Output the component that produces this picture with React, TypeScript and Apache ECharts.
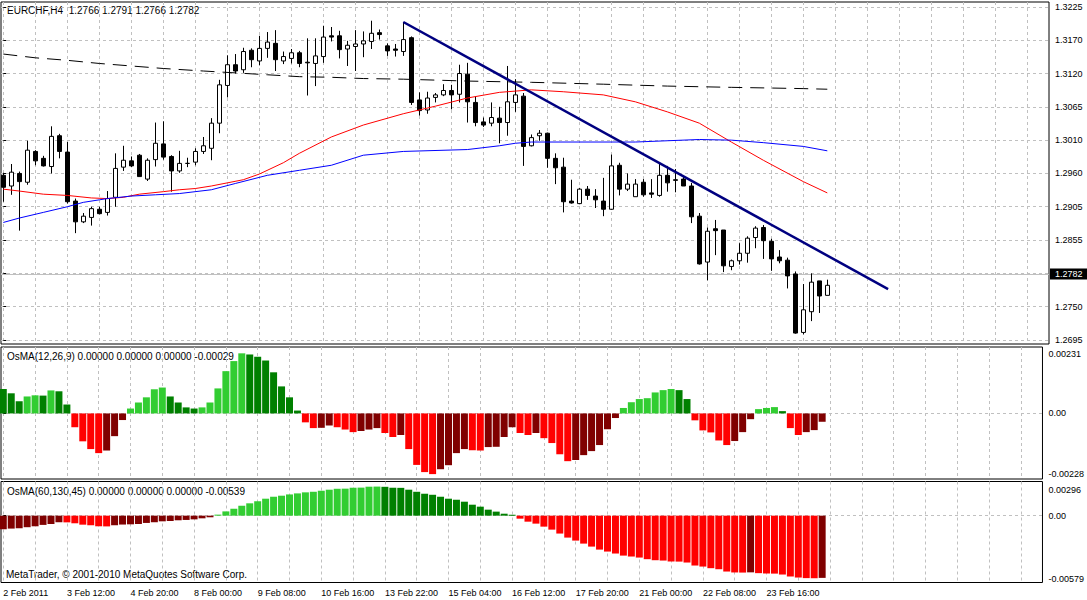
import React, { useEffect, useRef } from "react";
import * as echarts from "echarts";

// ---- Price data (EURCHF, H4) ----
const OPEN = [
  1.2957, 1.2940, 1.2960, 1.2946, 1.2995, 1.2984, 1.2971, 1.3020, 1.2994, 1.2916,
  1.2883, 1.2890, 1.2903, 1.2898, 1.2922, 1.2970, 1.2980, 1.2989, 1.2951, 1.2982,
  1.3007, 1.2987, 1.2964, 1.2976, 1.2978, 1.2995, 1.3000, 1.3040, 1.3100, 1.3133,
  1.3125, 1.3156, 1.3139, 1.3159, 1.3167, 1.3139, 1.3143, 1.3152, 1.3137, 1.3135,
  1.3146, 1.3179, 1.3179, 1.3158, 1.3162, 1.3166, 1.3170, 1.3184, 1.3163, 1.3158,
  1.3154, 1.3176, 1.3077, 1.3061, 1.3081, 1.3085, 1.3092, 1.3086, 1.3118, 1.3073,
  1.3042, 1.3040, 1.3048, 1.3041, 1.3073, 1.3083, 1.3004, 1.3020, 1.3024, 1.2984,
  1.2970, 1.2916, 1.2912, 1.2935, 1.2924, 1.2916, 1.2903, 1.2973, 1.2935, 1.2923,
  1.2946, 1.2929, 1.2925, 1.2957, 1.2950, 1.2951, 1.2940, 1.2892, 1.2819, 1.2872,
  1.2870, 1.2812, 1.2821, 1.2833, 1.2858, 1.2874, 1.2852, 1.2827, 1.2822, 1.2800,
  1.2707, 1.2740, 1.2789, 1.2766,
];
const HIGH = [
  1.2961, 1.2975, 1.2963, 1.3012, 1.2997, 1.2988, 1.3035, 1.3023, 1.3010, 1.2920,
  1.2897, 1.2907, 1.2907, 1.2932, 1.2992, 1.3004, 1.2987, 1.2991, 1.2984, 1.3041,
  1.3043, 1.2989, 1.2996, 1.2985, 1.3000, 1.3018, 1.3048, 1.3109, 1.3148, 1.3150,
  1.3160, 1.3159, 1.3179, 1.3185, 1.3188, 1.3154, 1.3158, 1.3155, 1.3175, 1.3175,
  1.3195, 1.3193, 1.3187, 1.3171, 1.3188, 1.3186, 1.3203, 1.3189, 1.3167, 1.3166,
  1.3201, 1.3178, 1.3089, 1.3090, 1.3088, 1.3102, 1.3101, 1.3133, 1.3136, 1.3083,
  1.3049, 1.3073, 1.3066, 1.3131, 1.3110, 1.3088, 1.3022, 1.3029, 1.3025, 1.2992,
  1.2985, 1.2950, 1.2937, 1.2940, 1.2935, 1.2953, 1.2990, 1.2977, 1.2960, 1.2951,
  1.2951, 1.2951, 1.2976, 1.2972, 1.2967, 1.2955, 1.2945, 1.2897, 1.2874, 1.2886,
  1.2870, 1.2823, 1.2849, 1.2860, 1.2876, 1.2878, 1.2856, 1.2838, 1.2826, 1.2804,
  1.2784, 1.2801, 1.2789, 1.2791,
];
const LOW = [
  1.2915, 1.2926, 1.2869, 1.2942, 1.2973, 1.2971, 1.2960, 1.2984, 1.2912, 1.2865,
  1.2881, 1.2877, 1.2895, 1.2893, 1.2907, 1.2964, 1.2970, 1.2955, 1.2948, 1.2971,
  1.2982, 1.2931, 1.2961, 1.2970, 1.2973, 1.2991, 1.2981, 1.3024, 1.3081, 1.3119,
  1.3120, 1.3129, 1.3132, 1.3144, 1.3123, 1.3134, 1.3135, 1.3129, 1.3084, 1.3099,
  1.3136, 1.3170, 1.3143, 1.3131, 1.3123, 1.3145, 1.3158, 1.3173, 1.3147, 1.3146,
  1.3147, 1.3069, 1.3052, 1.3055, 1.3073, 1.3083, 1.3062, 1.3073, 1.3041, 1.3035,
  1.3034, 1.3035, 1.3008, 1.3020, 1.3058, 1.2972, 1.3003, 1.3012, 1.2969, 1.2943,
  1.2898, 1.2912, 1.2911, 1.2918, 1.2905, 1.2892, 1.2902, 1.2925, 1.2932, 1.2923,
  1.2923, 1.2921, 1.2923, 1.2931, 1.2930, 1.2940, 1.2881, 1.2815, 1.2790, 1.2830,
  1.2803, 1.2806, 1.2815, 1.2818, 1.2841, 1.2824, 1.2805, 1.2817, 1.2777, 1.2705,
  1.2704, 1.2725, 1.2738, 1.2766,
];
const CLOSE = [
  1.2938, 1.2962, 1.2947, 1.2997, 1.2980, 1.2972, 1.3019, 1.2995, 1.2915, 1.2883,
  1.2892, 1.2904, 1.2896, 1.2920, 1.2968, 1.2981, 1.2972, 1.2955, 1.2981, 1.3008,
  1.2986, 1.2964, 1.2976, 1.2976, 1.2995, 1.3004, 1.3040, 1.3101, 1.3133, 1.3123,
  1.3154, 1.3141, 1.3159, 1.3169, 1.3141, 1.3146, 1.3152, 1.3135, 1.3136, 1.3147,
  1.3177, 1.3177, 1.3157, 1.3164, 1.3166, 1.3171, 1.3183, 1.3181, 1.3155, 1.3156,
  1.3173, 1.3073, 1.3060, 1.3080, 1.3085, 1.3092, 1.3085, 1.3119, 1.3074, 1.3041,
  1.3037, 1.3049, 1.3041, 1.3074, 1.3085, 1.3003, 1.3017, 1.3024, 1.2984, 1.2969,
  1.2915, 1.2913, 1.2935, 1.2925, 1.2918, 1.2903, 1.2972, 1.2935, 1.2943, 1.2943,
  1.2926, 1.2927, 1.2957, 1.2945, 1.2949, 1.2940, 1.2891, 1.2816, 1.2868, 1.2869,
  1.2813, 1.2821, 1.2833, 1.2857, 1.2873, 1.2853, 1.2824, 1.2821, 1.2797, 1.2706,
  1.2743, 1.2787, 1.2765, 1.2782,
];

// Moving averages: [bar index, value]
const MA_RED = [
  [0, 1.2935], [2, 1.2932], [5, 1.2927], [8, 1.2925], [11, 1.2921], [13, 1.2920],
  [15, 1.2922], [17, 1.2927], [20, 1.2931], [22, 1.2934], [24, 1.2936], [26, 1.2940],
  [28, 1.2945], [30, 1.2950], [32, 1.2959], [35, 1.2977], [37, 1.2992], [41, 1.3018],
  [45, 1.3037], [50, 1.3055], [54, 1.3067], [58, 1.3080], [62, 1.3089], [66, 1.3093],
  [70, 1.3090], [75, 1.3085], [79, 1.3074], [83, 1.3058], [87, 1.3040], [91, 1.3010],
  [95, 1.2981], [100, 1.2947], [103, 1.2929],
];
const MA_BLUE = [
  [0, 1.2882], [2, 1.2889], [5, 1.2898], [8, 1.2907], [10, 1.2914], [12, 1.2918],
  [13, 1.2920], [16, 1.2924], [19, 1.2926], [22, 1.2928], [26, 1.2934], [29, 1.2944],
  [33, 1.2957], [37, 1.2965], [41, 1.2973], [45, 1.2989], [50, 1.2995], [58, 1.2998],
  [62, 1.3004], [64, 1.3008], [66, 1.3010], [79, 1.3010], [83, 1.3012], [87, 1.3014],
  [91, 1.3013], [95, 1.3009], [100, 1.3003], [103, 1.2996],
];
const MA_DASHED = [
  [0, 1.3150], [4, 1.3144], [8, 1.3140], [12, 1.3135], [16, 1.3131], [20, 1.3127],
  [25, 1.3123], [29, 1.3120], [33, 1.3117], [37, 1.3114], [41, 1.3113], [45, 1.3111],
  [50, 1.3110], [58, 1.3107], [66, 1.3105], [75, 1.3102], [83, 1.3099], [91, 1.3097],
  [100, 1.3095], [103, 1.3094],
];
const TRENDLINE = [[50, 1.3201], [110.6, 1.2776]];
const LAST_PRICE = 1.2782;

// OsMA(12,26,9)
const OSMA_FAST = [
  0.00085, 0.00070, 0.00042, 0.00059, 0.00063, 0.00062, 0.00080, 0.00077, 0.00031, -0.00048,
  -0.00097, -0.00124, -0.00138, -0.00129, -0.00079, -0.00023, 0.00017, 0.00038, 0.00056, 0.00084,
  0.00090, 0.00059, 0.00038, 0.00021, 0.00017, 0.00021, 0.00038, 0.00087, 0.00147, 0.00182,
  0.00209, 0.00205, 0.00197, 0.00184, 0.00143, 0.00094, 0.00056, 0.00010, -0.00031, -0.00051,
  -0.00050, -0.00042, -0.00048, -0.00056, -0.00065, -0.00061, -0.00056, -0.00051, -0.00068, -0.00082,
  -0.00075, -0.00124, -0.00179, -0.00204, -0.00211, -0.00194, -0.00180, -0.00138, -0.00124, -0.00128,
  -0.00129, -0.00117, -0.00116, -0.00082, -0.00048, -0.00068, -0.00075, -0.00068, -0.00086, -0.00103,
  -0.00142, -0.00166, -0.00162, -0.00145, -0.00131, -0.00110, -0.00055, -0.00016, 0.00019, 0.00039,
  0.00050, 0.00053, 0.00073, 0.00081, 0.00085, 0.00081, 0.00050, -0.00024, -0.00059, -0.00066,
  -0.00094, -0.00110, -0.00096, -0.00065, -0.00020, 0.00015, 0.00019, 0.00022, 0.00008, -0.00051,
  -0.00075, -0.00065, -0.00058, -0.00029,
];
// OsMA(60,130,45)
const OSMA_SLOW = [
  -0.00118, -0.00112, -0.00109, -0.00100, -0.00092, -0.00080, -0.00072, -0.00057, -0.00058, -0.00066,
  -0.00078, -0.00083, -0.00092, -0.00093, -0.00083, -0.00077, -0.00075, -0.00072, -0.00063, -0.00057,
  -0.00049, -0.00046, -0.00040, -0.00037, -0.00032, -0.00023, -0.00014, 0.00009, 0.00037, 0.00060,
  0.00086, 0.00107, 0.00124, 0.00147, 0.00164, 0.00173, 0.00184, 0.00193, 0.00202, 0.00207,
  0.00216, 0.00225, 0.00233, 0.00234, 0.00242, 0.00243, 0.00251, 0.00252, 0.00250, 0.00242,
  0.00241, 0.00225, 0.00207, 0.00190, 0.00181, 0.00164, 0.00147, 0.00138, 0.00121, 0.00095,
  0.00078, 0.00052, 0.00035, 0.00017, 0.00007, -0.00026, -0.00052, -0.00069, -0.00095, -0.00121,
  -0.00155, -0.00190, -0.00216, -0.00242, -0.00268, -0.00294, -0.00311, -0.00328, -0.00346, -0.00354,
  -0.00363, -0.00377, -0.00386, -0.00389, -0.00397, -0.00398, -0.00406, -0.00432, -0.00441, -0.00455,
  -0.00464, -0.00484, -0.00492, -0.00493, -0.00491, -0.00498, -0.00501, -0.00502, -0.00510, -0.00527,
  -0.00536, -0.00541, -0.00542, -0.00539,
];

const X_LABELS = [
  "2 Feb 2011", "3 Feb 12:00", "4 Feb 20:00", "8 Feb 00:00", "9 Feb 08:00",
  "10 Feb 16:00", "13 Feb 22:00", "15 Feb 04:00", "16 Feb 12:00", "17 Feb 20:00",
  "21 Feb 00:00", "22 Feb 08:00", "23 Feb 16:00",
];
const PRICE_TICKS = [
  "1.2695", "1.2750", "1.2800", "1.2855", "1.2905", "1.2960",
  "1.3010", "1.3065", "1.3120", "1.3170", "1.3225",
];
const OSMA_FAST_SCALE = [-0.00228, 0.00231];
const OSMA_SLOW_SCALE = [-0.00579, 0.00296];

const TITLE_MAIN = "EURCHF,H4  1.2766 1.2791 1.2766 1.2782";
const TITLE_FAST = "OsMA(12,26,9) 0.00000 0.00000 0.00000 -0.00029";
const TITLE_SLOW = "OsMA(60,130,45) 0.00000 0.00000 0.00000 -0.00539";
const COPYRIGHT = "MetaTrader, \u00a9 2001-2010 MetaQuotes Software Corp.";

// ---- layout ----
const FONT = "'Liberation Sans', Arial, sans-serif";
const FS = 9;
const FS_TITLE = 10;
const GRID_LEFT = 1;
const GRID_WIDTH = 1048;
const BAR_PX = 8;
const FIRST_BAR_PX = 3.3;
const X_MIN = -(FIRST_BAR_PX - GRID_LEFT) / BAR_PX;
const X_MAX = X_MIN + GRID_WIDTH / BAR_PX;
const PANES = [
  { top: 2, height: 342 },
  { top: 347, height: 132 },
  { top: 481.5, height: 101 },
];
const PRICE_AXIS_MIN = 1.26886;
const PRICE_AXIS_MAX = 1.32328;

const LIME = "#32CD32";
const GREEN = "#008000";
const RED = "#FF0000";
const MAROON = "#800000";
const GRID_COLOR = "#c0c0c0";

function osmaColor(values: number[], i: number): string {
  const v = values[i];
  const prev = i > 0 ? values[i - 1] : undefined;
  if (v >= 0) return prev !== undefined && v > prev ? LIME : GREEN;
  return prev !== undefined && v < prev ? RED : MAROON;
}

export default function App() {
  const ref = useRef<HTMLDivElement>(null);

  useEffect(() => {
    if (!ref.current) return;
    const chart = echarts.init(ref.current, undefined, { renderer: "svg" });

    const lo = parseFloat(PRICE_TICKS[0]);
    const hi = parseFloat(PRICE_TICKS[PRICE_TICKS.length - 1]);
    const step = (hi - lo) / (PRICE_TICKS.length - 1);
    const priceGrid = PRICE_TICKS.map((_, i) => lo + i * step);

    const gridX: number[] = [];
    for (let v = 0; v <= X_MAX; v += 4) gridX.push(v);
    const labelX = X_LABELS.map((_, i) => i * 8);

    const xAxes = PANES.map((_, i) => ({
      type: "value",
      gridIndex: i,
      min: X_MIN,
      max: X_MAX,
      axisLine: { show: false },
      axisTick: { show: false, customValues: gridX },
      axisLabel: {
        show: i === 2,
        customValues: labelX,
        formatter: (v: number) => X_LABELS[Math.round(v / 8)] ?? "",
        align: "left",
        color: "#000",
        fontSize: FS,
        fontFamily: FONT,
        margin: 6,
      },
      splitLine: { show: true, lineStyle: { color: GRID_COLOR, type: [3, 3], width: 1 } },
    }));

    const osmaAxis = (idx: number, scale: number[], topInsetPx: number, botInsetPx: number) => {
      const [mn, mx] = scale;
      const h = PANES[idx].height;
      const perPx = (mx - mn) / h;
      return {
        type: "value",
        gridIndex: idx,
        position: "right",
        min: mn,
        max: mx,
        axisLine: { show: false },
        axisTick: { show: true, length: 3, lineStyle: { color: "#000" }, customValues: [0] },
        axisLabel: {
          customValues: [mn + botInsetPx * perPx, 0, mx - topInsetPx * perPx],
          formatter: (v: number) => (v > 1e-9 ? mx.toFixed(5) : v < -1e-9 ? mn.toFixed(5) : "0.00"),
          color: "#000",
          fontSize: FS,
          fontFamily: FONT,
          margin: 6,
        },
        splitLine: { show: true, lineStyle: { color: GRID_COLOR, type: [3, 3] } },
      };
    };

    const titleFont = `${FS_TITLE}px ${FONT}`;

    const option = {
      animation: false,
      backgroundColor: "#fff",
      grid: PANES.map((p) => ({
        left: GRID_LEFT,
        top: p.top,
        width: GRID_WIDTH,
        height: p.height,
        show: true,
        borderColor: "#000",
        borderWidth: 1,
        backgroundColor: "transparent",
      })),
      xAxis: xAxes,
      yAxis: [
        {
          type: "value",
          gridIndex: 0,
          position: "right",
          min: PRICE_AXIS_MIN,
          max: PRICE_AXIS_MAX,
          axisLine: { show: false },
          axisTick: { show: true, length: 3, lineStyle: { color: "#000" }, customValues: priceGrid },
          axisLabel: {
            customValues: priceGrid,
            formatter: (v: number) => PRICE_TICKS[Math.round((v - lo) / step)] ?? "",
            color: "#000",
            fontSize: FS,
            fontFamily: FONT,
            margin: 6,
          },
          splitLine: { show: true, lineStyle: { color: GRID_COLOR, type: [3, 3] } },
        },
        osmaAxis(1, OSMA_FAST_SCALE, 7, 5),
        osmaAxis(2, OSMA_SLOW_SCALE, 8, 4),
      ],
      graphic: [
        { type: "text", left: 7, top: 5, style: { text: TITLE_MAIN, fill: "#000", font: titleFont } },
        { type: "text", left: 7, top: 351, style: { text: TITLE_FAST, fill: "#000", font: titleFont } },
        { type: "text", left: 7, top: 486, style: { text: TITLE_SLOW, fill: "#000", font: titleFont } },
        { type: "text", left: 6, top: 569, style: { text: COPYRIGHT, fill: "#000", font: titleFont } },
      ],
      series: [
        {
          type: "candlestick",
          xAxisIndex: 0,
          yAxisIndex: 0,
          barWidth: 5,
          encode: { x: 0, y: [1, 2, 3, 4] },
          data: OPEN.map((o, i) => [i, o, CLOSE[i], LOW[i], HIGH[i]]),
          itemStyle: {
            color: "#ffffff",
            color0: "#000000",
            borderColor: "#000000",
            borderColor0: "#000000",
            borderWidth: 1,
          },
          markLine: {
            silent: true,
            symbol: ["none", "none"],
            data: [{ yAxis: LAST_PRICE }],
            lineStyle: { color: GRID_COLOR, type: "solid", width: 1 },
            label: {
              show: true,
              position: "end",
              formatter: LAST_PRICE.toFixed(4),
              backgroundColor: "#000",
              color: "#fff",
              fontSize: FS,
              fontFamily: FONT,
              padding: [1, 5, 1, 5],
              distance: 1,
            },
            z: 1,
          },
        },
        {
          type: "line",
          xAxisIndex: 0,
          yAxisIndex: 0,
          data: MA_DASHED,
          showSymbol: false,
          lineStyle: { color: "#000", width: 1, type: [14, 8] },
        },
        {
          type: "line",
          xAxisIndex: 0,
          yAxisIndex: 0,
          data: MA_RED,
          showSymbol: false,
          lineStyle: { color: "#ff0000", width: 1 },
        },
        {
          type: "line",
          xAxisIndex: 0,
          yAxisIndex: 0,
          data: MA_BLUE,
          showSymbol: false,
          lineStyle: { color: "#0000ff", width: 1 },
        },
        {
          type: "line",
          xAxisIndex: 0,
          yAxisIndex: 0,
          data: TRENDLINE,
          showSymbol: false,
          lineStyle: { color: "#000080", width: 2.5 },
        },
        {
          type: "bar",
          xAxisIndex: 1,
          yAxisIndex: 1,
          barWidth: 7,
          data: OSMA_FAST.map((v, i) => ({ value: [i, v], itemStyle: { color: osmaColor(OSMA_FAST, i) } })),
        },
        {
          type: "bar",
          xAxisIndex: 2,
          yAxisIndex: 2,
          barWidth: 7,
          data: OSMA_SLOW.map((v, i) => ({ value: [i, v], itemStyle: { color: osmaColor(OSMA_SLOW, i) } })),
        },
      ],
    };

    chart.setOption(option as any);
    return () => chart.dispose();
  }, []);

  return (
    <div
      ref={ref}
      style={{ position: "fixed", left: 0, top: 0, width: 1087, height: 600, background: "#fff" }}
    />
  );
}
